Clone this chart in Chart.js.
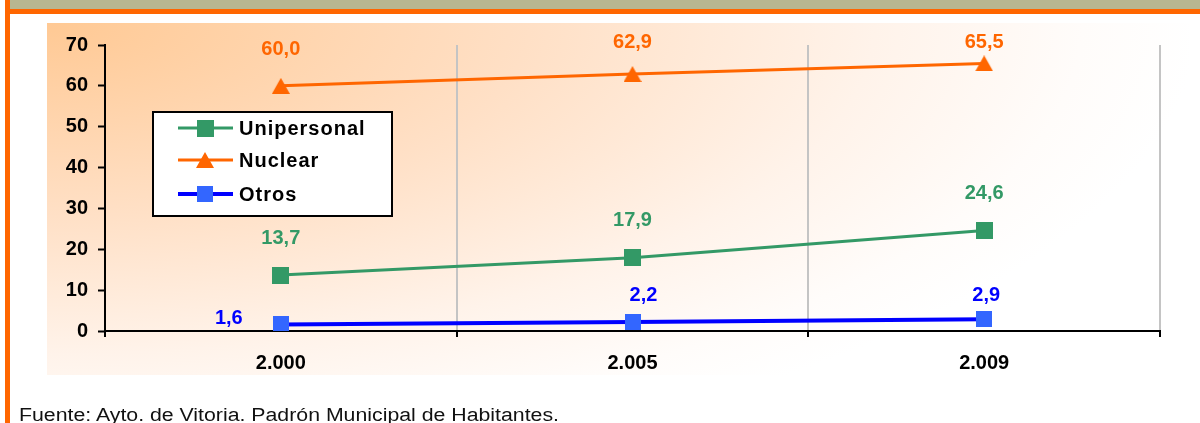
<!DOCTYPE html>
<html><head><meta charset="utf-8">
<script src="https://cdn.jsdelivr.net/npm/chart.js@4.4.0/dist/chart.umd.min.js"></script>
<style>
html,body{margin:0;padding:0;background:#fff;}
#wrap{position:relative;width:1200px;height:423px;overflow:hidden;background:#fff;}
#hdr{position:absolute;left:10px;top:0;width:1190px;height:9px;background:#B8B791;}
#hline{position:absolute;left:5px;top:9px;width:1195px;height:5px;background:#FF6600;}
#vline{position:absolute;left:5px;top:0;width:5px;height:423px;background:#FF6600;}
#bg{position:absolute;left:47px;top:23px;width:1143px;height:352px;
  background:radial-gradient(ellipse 1150px 460px at 0 0,#FFC994 0%,#FFE0C6 42%,#FFF3EA 72%,#FFFCFA 90%,#FFFFFF 100%);}
canvas{position:absolute;left:0;top:0;}
#foot{position:absolute;left:19px;top:405px;font-size:18px;line-height:20px;font-family:"Liberation Sans",Arial,sans-serif;white-space:nowrap;transform-origin:0 0;color:#111;}
</style>
</head><body>
<div id="wrap">
  <div id="hdr"></div>
  <div id="hline"></div>
  <div id="vline"></div>
  <div id="bg"></div>
  <canvas id="c" width="1200" height="423"></canvas>
  <div id="foot">Fuente: Ayto. de Vitoria. Padrón Municipal de Habitantes.</div>
</div>
<script>
// ---- data ----
const categories = ['2.000', '2.005', '2.009'];
const seriesNames = ['Unipersonal', 'Nuclear', 'Otros'];
const unipersonal = [13.7, 17.9, 24.6];
const nuclear = [60.0, 62.9, 65.5];
const otros = [1.6, 2.2, 2.9];
const yTicks = [0, 10, 20, 30, 40, 50, 60, 70];

const FONT = '"Liberation Sans", Arial, sans-serif';
const GREEN = '#339966', ORANGE = '#FF6600', BLUE = '#0000FF', BLUEMARK = '#3366FF';

function makeSquare(size, color) {
  const c = document.createElement('canvas'); c.width = size; c.height = size;
  const x = c.getContext('2d'); x.fillStyle = color; x.fillRect(0, 0, size, size); return c;
}
function makeTriangle(w, h, color) {
  const c = document.createElement('canvas'); c.width = w; c.height = h;
  const x = c.getContext('2d'); x.fillStyle = color;
  x.beginPath(); x.moveTo(w / 2, 0); x.lineTo(w, h); x.lineTo(0, h); x.closePath(); x.fill(); return c;
}
const mkGreen = makeSquare(17, GREEN);
const mkOrange = makeTriangle(18, 16, ORANGE);
const mkBlue = makeSquare(16, BLUEMARK);

const fmt = v => v.toFixed(1).replace('.', ',');

const valueLabels = {
  id: 'valueLabels',
  afterDatasetsDraw(chart, args, opts) {
    const ctx = chart.ctx;
    ctx.save();
    ctx.font = 'bold 20px ' + FONT;
    ctx.textAlign = 'center';
    ctx.textBaseline = 'middle';
    chart.data.datasets.forEach((ds, i) => {
      const cfg = opts.series[i];
      const meta = chart.getDatasetMeta(i);
      ctx.fillStyle = cfg.color;
      meta.data.forEach((pt, j) => {
        const off = cfg.offsets ? cfg.offsets[j] : [0, cfg.dy];
        let x = pt.x + off[0], y = pt.y + off[1];
        if (cfg.minY != null) y = Math.max(y, cfg.minY);
        ctx.fillText(fmt(ds.data[j]), x, y);
      });
    });
    ctx.restore();
  }
};

const boxLegend = {
  id: 'boxLegend',
  afterDraw(chart, args, opts) {
    const ctx = chart.ctx;
    const b = opts.box;
    ctx.save();
    ctx.fillStyle = '#fff';
    ctx.fillRect(b.x, b.y, b.w, b.h);
    ctx.strokeStyle = '#000'; ctx.lineWidth = 2;
    ctx.strokeRect(b.x, b.y, b.w, b.h);
    ctx.font = 'bold 20px ' + FONT;
    ctx.textBaseline = 'middle';
    ctx.textAlign = 'left';
    try { ctx.letterSpacing = '1px'; } catch (e) {}
    chart.data.datasets.forEach((ds, i) => {
      const y = opts.rows[i];
      ctx.strokeStyle = ds.borderColor; ctx.lineWidth = ds.borderWidth;
      ctx.beginPath(); ctx.moveTo(opts.lineX0, y); ctx.lineTo(opts.lineX1, y); ctx.stroke();
      const m = ds.pointStyle;
      ctx.drawImage(m, Math.round(opts.markX - m.width / 2), Math.round(y - m.height / 2));
      ctx.fillStyle = '#000';
      ctx.fillText(ds.label, opts.textX, y + 1);
    });
    ctx.restore();
  }
};

const tickFont = { family: FONT, size: 20, weight: 'bold' };

new Chart(document.getElementById('c'), {
  type: 'line',
  data: {
    labels: categories,
    datasets: [
      { label: seriesNames[0], data: unipersonal, borderColor: GREEN, borderWidth: 3, pointStyle: mkGreen, pointRadius: 9, tension: 0 },
      { label: seriesNames[1], data: nuclear, borderColor: ORANGE, borderWidth: 3, pointStyle: mkOrange, pointRadius: 9, tension: 0 },
      { label: seriesNames[2], data: otros, borderColor: BLUE, borderWidth: 4, pointStyle: mkBlue, pointRadius: 9, tension: 0 }
    ]
  },
  options: {
    responsive: false,
    devicePixelRatio: 1,
    animation: false,
    events: [],
    layout: { padding: { left: 0, right: 40, top: 45, bottom: 0 } },
    plugins: {
      legend: { display: false },
      tooltip: { enabled: false },
      valueLabels: {
        series: [
          { color: GREEN, dy: -37 },
          { color: ORANGE, dy: -36, minY: 42 },
          { color: BLUE, offsets: [[-52, -6], [11, -27], [2, -24]] }
        ]
      },
      boxLegend: {
        box: { x: 153, y: 112, w: 239, h: 104 },
        rows: [128, 160, 194],
        lineX0: 178, lineX1: 233, markX: 205, textX: 239
      }
    },
    scales: {
      x: {
        type: 'category',
        offset: true,
        grid: { offset: true, color: '#C4C4C4', lineWidth: 2, tickColor: '#000', tickWidth: 2, tickLength: 6, drawOnChartArea: true },
        border: { color: '#000', width: 2 },
        ticks: { color: '#000', font: tickFont, padding: 14, maxRotation: 0 },
        afterFit(s) { s.height = 92; }
      },
      y: {
        min: 0, max: 70,
        afterBuildTicks(s) { s.ticks = yTicks.map(v => ({ value: v })); },
        grid: { drawOnChartArea: false, tickColor: '#000', tickWidth: 2, tickLength: 7 },
        border: { color: '#000', width: 2 },
        ticks: { color: '#000', font: tickFont, padding: 10 },
        afterFit(s) { s.width = 105; }
      }
    }
  },
  plugins: [valueLabels, boxLegend]
});

const foot = document.getElementById('foot');
const fw = foot.getBoundingClientRect().width;
foot.style.transform = 'scaleX(' + (540 / fw) + ')';
</script>
</body></html>
